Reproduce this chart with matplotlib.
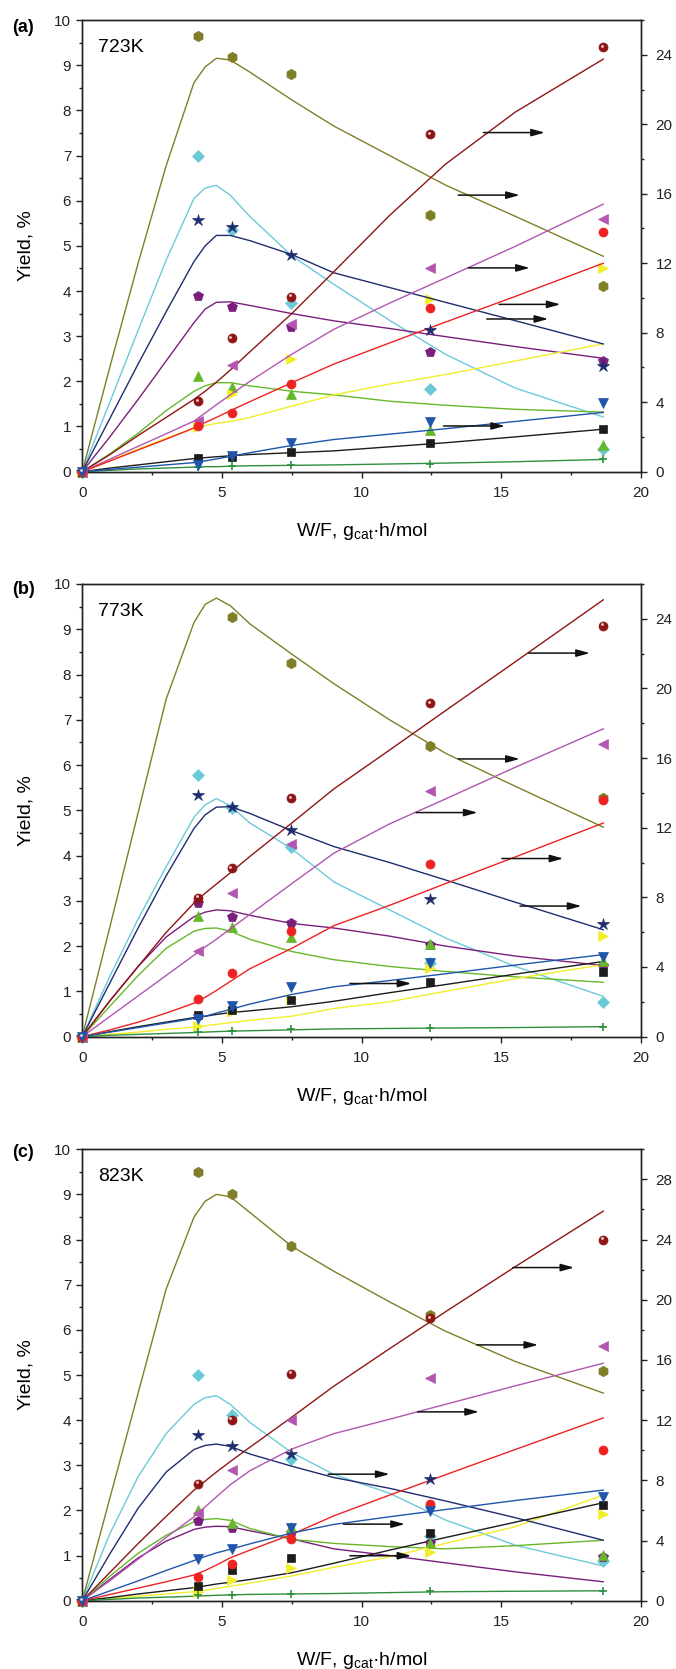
import numpy as np
import matplotlib.pyplot as plt
from matplotlib.ticker import MultipleLocator
from matplotlib.transforms import offset_copy

plt.rcParams["font.family"] = ["Liberation Sans", "DejaVu Sans"]
plt.rcParams["mathtext.default"] = "regular"

# measured W/F values and the x grid the model curves are sampled on
x_pts = [0, 4.15, 5.35, 7.47, 12.45, 18.65]
x_fit = [0, 1, 2, 3, 4, 4.4, 4.8, 5.3, 6, 7.5, 9, 11, 13, 15.5, 18.65]

# series order (rows of every table below)
series = ["olive", "cyan", "navy", "purple", "maroon", "magenta",
          "green", "yellow", "red", "blue", "black", "plus"]
colors = ["#7f7f27", "#6ccad8", "#1f2d6e", "#7a1e7e", "#8e1616", "#b256b0",
          "#66b82a", "#f2ee2a", "#ee2222", "#1f55aa", "#1c1c1c", "#2f8f3e"]
markers = ["h", "D", "*", "p", "o", "<", "^", ">", "o", "v", "s", "+"]
msizes = [7.5, 6, 9, 7.5, 6.5, 7.5, 7.5, 7.5, 6.5, 7.5, 6, 6]
# series read against the right-hand axis (the ones marked with arrows)
on_right = [True, False, True, False, True, True, False, False, True, True, False, False]

temps = ["723K", "773K", "823K"]
tags = ["(a)", "(b)", "(c)"]
right_max = [26, 26, 30]

nan = np.nan

# ---- 723 K ----
pts_a = [
    [0, 25.1, 23.9, 22.9, 14.8, 10.7],
    [0, 6.98, 5.36, 3.73, 1.83, 0.5],
    [0, 14.5, 14.1, 12.5, 8.17, 6.1],
    [0, 3.9, 3.64, 3.2, 2.66, 2.44],
    [0, 4.06, 7.67, 10.07, 19.44, 24.42],
    [0, 2.9, 6.14, 8.5, 11.7, 14.54],
    [0, 2.11, 1.87, 1.72, 0.92, 0.6],
    [0, 0.98, 1.72, 2.49, 3.82, 4.5],
    [0, 2.65, 3.38, 5.02, 9.44, 13.77],
    [0, 0.39, 0.92, 1.63, 2.84, 3.93],
    [0, 0.31, 0.33, 0.43, 0.63, 0.95],
    [0, 0.11, 0.13, 0.15, 0.18, 0.27],
]
fit_a = [
    [0, 6.1, 12.0, 17.6, 22.4, 23.3, 23.8, 23.7, 23.0, 21.4, 19.9, 18.2, 16.5, 14.7, 12.4],
    [0, 1.56, 3.13, 4.68, 6.05, 6.28, 6.34, 6.12, 5.65, 4.78, 4.15, 3.35, 2.6, 1.85, 1.21],
    [0, 3.1, 6.2, 9.2, 12.1, 13.0, 13.6, 13.6, 13.3, 12.5, 11.45, 10.6, 9.75, 8.69, 7.35],
    [0, 0.78, 1.6, 2.45, 3.3, 3.6, 3.75, 3.76, 3.68, 3.5, 3.34, 3.17, 2.99, 2.77, 2.51],
    [0, 0.99, 2.08, 3.12, 4.16, 4.63, 5.15, 5.85, 6.9, 9.1, 11.5, 14.75, 17.7, 20.7, 23.75],
    [0, 0.73, 1.46, 2.18, 2.91, 3.38, 3.85, 4.42, 5.2, 6.76, 8.19, 9.7, 11.15, 12.97, 15.4],
    [0, 0.4, 0.85, 1.35, 1.78, 1.9, 1.97, 1.97, 1.9, 1.78, 1.7, 1.56, 1.47, 1.38, 1.32],
    [0, 0.25, 0.5, 0.74, 0.95, 1.02, 1.07, 1.11, 1.2, 1.45, 1.7, 1.94, 2.15, 2.45, 2.83],
    [0, 0.62, 1.25, 1.87, 2.52, 2.83, 3.12, 3.51, 4.03, 5.12, 6.19, 7.41, 8.61, 10.09, 12.0],
    [0, 0.13, 0.26, 0.39, 0.52, 0.62, 0.73, 0.88, 1.09, 1.51, 1.85, 2.16, 2.47, 2.89, 3.41],
    [0, 0.08, 0.15, 0.22, 0.29, 0.31, 0.33, 0.35, 0.38, 0.42, 0.46, 0.55, 0.64, 0.77, 0.94],
    [0, 0.03, 0.06, 0.08, 0.1, 0.11, 0.11, 0.12, 0.13, 0.14, 0.15, 0.17, 0.19, 0.22, 0.27],
]
arrows_a = [(14.36, 19.52), (13.46, 15.92), (13.82, 11.73),
            (14.92, 9.63), (14.48, 8.79), (12.93, 2.63)]

# ---- 773 K ----
pts_b = [
    [0, nan, 24.1, 21.45, 16.72, 13.73],
    [0, 5.78, 5.04, 4.2, 1.63, 0.76],
    [0, 13.9, 13.2, 11.84, 7.9, 6.48],
    [0, 2.96, 2.65, 2.52, 2.02, 1.55],
    [0, 7.99, 9.67, 13.7, 19.15, 23.6],
    [0, 4.94, 8.27, 11.07, 14.13, 16.8],
    [0, 2.67, 2.42, 2.21, 2.05, 1.66],
    [0, 0.24, 0.55, 0.83, 1.52, 2.23],
    [0, 2.15, 3.67, 6.07, 9.89, 13.6],
    [0, 1.0, 1.76, 2.87, 4.23, 4.55],
    [0, 0.48, 0.58, 0.8, 1.2, 1.43],
    [0, 0.1, 0.13, 0.16, 0.2, 0.22],
]
fit_b = [
    [0, 6.37, 12.87, 19.37, 23.79, 24.83, 25.19, 24.75, 23.71, 21.97, 20.28, 18.2, 16.28, 14.38, 12.03],
    [0, 1.35, 2.6, 3.75, 4.85, 5.12, 5.26, 5.1, 4.72, 4.15, 3.42, 2.8, 2.18, 1.55, 0.89],
    [0, 3.12, 6.24, 9.23, 11.96, 12.74, 13.18, 13.21, 12.82, 11.83, 10.92, 10.0, 9.0, 7.72, 6.14],
    [0, 0.8, 1.55, 2.2, 2.65, 2.75, 2.8, 2.78, 2.68, 2.5, 2.4, 2.22, 2.0, 1.78, 1.57],
    [0, 2.08, 4.03, 5.98, 7.67, 8.24, 8.76, 9.41, 10.35, 12.27, 14.22, 16.46, 18.72, 21.53, 25.09],
    [0, 1.17, 2.34, 3.51, 4.68, 5.15, 5.59, 6.19, 7.02, 8.79, 10.53, 12.22, 13.65, 15.47, 17.68],
    [0, 0.68, 1.35, 1.95, 2.33, 2.39, 2.4, 2.33, 2.15, 1.88, 1.7, 1.55, 1.44, 1.32, 1.2],
    [0, 0.05, 0.1, 0.16, 0.21, 0.24, 0.27, 0.31, 0.36, 0.45, 0.62, 0.77, 1.0, 1.28, 1.59],
    [0, 0.39, 0.83, 1.35, 1.92, 2.26, 2.65, 3.17, 3.9, 5.07, 6.37, 7.54, 8.79, 10.32, 12.27],
    [0, 0.26, 0.52, 0.78, 1.04, 1.17, 1.35, 1.56, 1.87, 2.42, 2.86, 3.22, 3.61, 4.11, 4.71],
    [0, 0.11, 0.22, 0.32, 0.42, 0.45, 0.49, 0.53, 0.57, 0.66, 0.78, 0.97, 1.15, 1.38, 1.66],
    [0, 0.03, 0.05, 0.07, 0.09, 0.1, 0.11, 0.12, 0.13, 0.15, 0.17, 0.18, 0.19, 0.2, 0.22],
]
arrows_b = [(15.97, 22.03), (13.46, 15.95), (11.95, 12.87),
            (15.02, 10.23), (15.67, 7.5), (9.58, 3.05)]

# ---- 823 K ----
pts_c = [
    [0, 28.5, 27.06, 23.6, 18.98, 15.29],
    [0, 4.99, 4.11, 3.14, 1.44, 0.88],
    [0, 11.0, 10.3, 9.74, 8.06, nan],
    [0, 1.76, 1.62, 1.49, 1.28, 0.97],
    [0, 7.77, 12.04, 15.1, 18.76, 24.0],
    [0, 5.8, 8.68, 12.0, 14.83, 16.95],
    [0, 2.02, 1.73, 1.64, 1.27, 1.01],
    [0, 0.2, 0.46, 0.72, 1.08, 1.92],
    [0, 1.6, 2.41, 4.07, 6.4, 10.0],
    [0, 2.77, 3.41, 4.85, 5.98, 6.91],
    [0, 0.33, 0.68, 0.95, 1.49, 2.13],
    [0, 0.12, 0.13, 0.15, 0.21, 0.22],
]
fit_c = [
    [0, 6.9, 13.8, 20.7, 25.5, 26.55, 27.0, 26.85, 25.8, 23.55, 21.9, 19.86, 17.91, 15.9, 13.8],
    [0, 1.5, 2.75, 3.7, 4.35, 4.5, 4.54, 4.35, 3.95, 3.28, 2.8, 2.38, 1.79, 1.23, 0.77],
    [0, 3.15, 6.15, 8.55, 10.05, 10.32, 10.41, 10.26, 9.75, 8.94, 8.19, 7.47, 6.63, 5.52, 4.02],
    [0, 0.48, 0.95, 1.32, 1.58, 1.63, 1.65, 1.64, 1.55, 1.37, 1.15, 1.0, 0.84, 0.64, 0.42],
    [0, 1.9, 3.8, 5.6, 7.35, 7.95, 8.55, 9.25, 10.2, 12.2, 14.25, 16.75, 19.2, 22.2, 25.89],
    [0, 1.35, 2.76, 4.2, 5.58, 6.24, 6.9, 7.71, 8.64, 10.08, 11.1, 12.06, 13.05, 14.28, 15.78],
    [0, 0.55, 1.05, 1.45, 1.75, 1.8, 1.82, 1.78, 1.6, 1.36, 1.27, 1.2, 1.15, 1.22, 1.34],
    [0, 0.05, 0.1, 0.15, 0.2, 0.23, 0.27, 0.32, 0.39, 0.55, 0.74, 0.97, 1.27, 1.64, 2.34],
    [0, 0.42, 0.84, 1.26, 1.71, 2.01, 2.37, 2.85, 3.36, 4.41, 5.64, 7.02, 8.37, 10.05, 12.15],
    [0, 0.66, 1.32, 2.01, 2.67, 2.94, 3.18, 3.42, 3.78, 4.5, 5.07, 5.58, 6.06, 6.66, 7.35],
    [0, 0.07, 0.15, 0.22, 0.29, 0.33, 0.37, 0.41, 0.47, 0.62, 0.83, 1.12, 1.4, 1.74, 2.17],
    [0, 0.03, 0.06, 0.08, 0.1, 0.11, 0.12, 0.13, 0.14, 0.15, 0.16, 0.18, 0.2, 0.21, 0.22],
]
arrows_c = [(15.41, 22.14), (14.12, 17.0), (12.0, 12.55),
            (8.8, 8.41), (9.35, 5.09), (9.58, 2.99)]

ARROW_LEN = 2.2

fig = plt.figure(figsize=(6.76, 16.69), dpi=100)

# axes boxes in figure fractions (left, bottom, width, height)
boxes = [
    [0.1217, 0.7174, 0.8265, 0.2706],
    [0.1217, 0.3789, 0.8265, 0.2712],
    [0.1217, 0.0409, 0.8265, 0.2705],
]
tag_y = [0.9838, 0.6465, 0.3092]


def style_axis(ax):
    for sp in ax.spines.values():
        sp.set_linewidth(1.0)
        sp.set_color("#222222")


def draw_panel(k, pts, fit, arrows):
    ax = fig.add_axes(boxes[k])
    ax2 = ax.twinx()

    # model curves
    for i in range(len(series)):
        tgt = ax2 if on_right[i] else ax
        tgt.plot(x_fit, fit[i], color=colors[i], lw=1.0, zorder=2)

    # experimental points
    for i in range(len(series)):
        tgt = ax2 if on_right[i] else ax
        mew = 1.2 if markers[i] == "+" else 0.5
        tgt.plot(x_pts, pts[i], ls="none", marker=markers[i], ms=msizes[i],
                 color=colors[i], mec=colors[i], mew=mew, clip_on=False, zorder=3)
        if series[i] == "maroon":
            # small highlight so the marker reads as a ball
            hl = offset_copy(tgt.transData, fig=fig, x=-1.0, y=1.0, units="points")
            tgt.plot(x_pts, pts[i], ls="none", marker="o", ms=2.0,
                     color="#f2d2d2", mew=0, transform=hl, clip_on=False, zorder=4)

    for x0, y in arrows:
        ax2.annotate("", xy=(x0 + ARROW_LEN, y), xytext=(x0, y),
                     arrowprops=dict(arrowstyle="-|>,head_length=0.8,head_width=0.22",
                                     color="#111111", lw=1.1, mutation_scale=10,
                                     shrinkA=0, shrinkB=0), zorder=5)

    ax.set_xlim(0, 20)
    ax.set_ylim(0, 10)
    ax2.set_ylim(0, right_max[k])

    ax.xaxis.set_major_locator(MultipleLocator(5))
    ax.xaxis.set_minor_locator(MultipleLocator(2.5))
    ax.yaxis.set_major_locator(MultipleLocator(1))
    ax.yaxis.set_minor_locator(MultipleLocator(0.5))
    ax2.yaxis.set_major_locator(MultipleLocator(4))
    ax2.yaxis.set_minor_locator(MultipleLocator(2))

    ax.tick_params(which="both", direction="out", top=False, right=False,
                   width=1.0, colors="#222222")
    ax.tick_params(which="major", length=4.5, labelsize=11)
    ax.tick_params(which="minor", length=2.5)
    ax.tick_params(axis="x", which="major", pad=6)
    ax2.tick_params(which="both", direction="out", width=1.0, colors="#222222")
    ax2.tick_params(which="major", length=4.5, labelsize=11, pad=6)
    ax2.tick_params(which="minor", length=2.5)

    style_axis(ax)
    style_axis(ax2)

    ax.set_xlabel("W/F, g$_{cat}$·h/mol", fontsize=14, labelpad=15)
    ax.set_ylabel("Yield, %", fontsize=14, labelpad=14)

    ax.text(0.028, 0.94, temps[k], transform=ax.transAxes, fontsize=14,
            va="center", ha="left")
    fig.text(0.018, tag_y[k], tags[k], fontsize=13, fontweight="bold",
             va="center", ha="left")


draw_panel(0, pts_a, fit_a, arrows_a)
draw_panel(1, pts_b, fit_b, arrows_b)
draw_panel(2, pts_c, fit_c, arrows_c)

fig.savefig("out.png", dpi=100)
